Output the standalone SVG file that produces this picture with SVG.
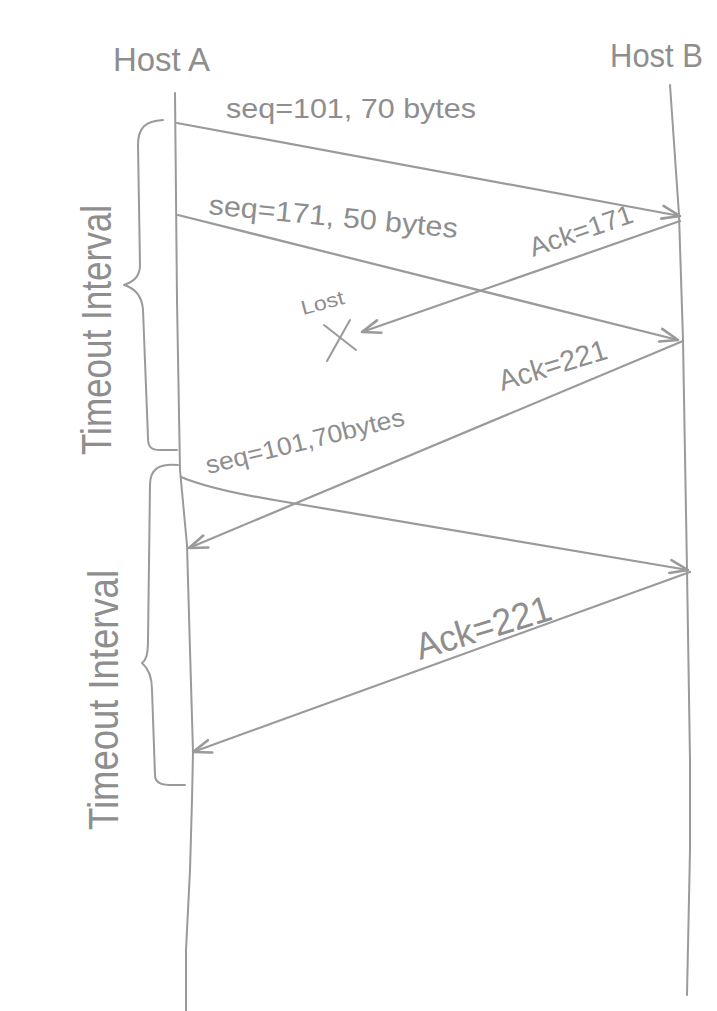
<svg xmlns="http://www.w3.org/2000/svg" width="717" height="1011" viewBox="0 0 717 1011">
<style>
.ln{fill:none;stroke:#9a9a9a;stroke-width:2;stroke-linecap:round;stroke-linejoin:round}
.msg{fill:none;stroke:#9a9a9a;stroke-width:2.2;stroke-linecap:round;marker-end:url(#ah)}
.t{font-family:"Liberation Sans",Arial,sans-serif;fill:#8e8e8e}
</style>
<defs>
<marker id="ah" markerUnits="userSpaceOnUse" markerWidth="26" markerHeight="22" viewBox="-22 -11 26 22" refX="0" refY="0" orient="auto">
<path d="M-18,-7 L0,0 L-18,6" fill="none" stroke="#9a9a9a" stroke-width="2.6" stroke-linecap="round" stroke-linejoin="round"/>
</marker>
</defs>
<rect width="717" height="1011" fill="#ffffff"/>
<g id="hostA">
<text class="t" x="113" y="71" font-size="33" textLength="97" lengthAdjust="spacingAndGlyphs">Host A</text>
<path class="ln" d="M175,93 L177,300 L180,470 L187,545 L190,650 L193,752 L192,800 L190,870 L186,950 L186,1011"/>
</g>
<g id="hostB">
<text class="t" x="610" y="67" font-size="33" textLength="93" lengthAdjust="spacingAndGlyphs">Host B</text>
<path class="ln" d="M670,85 L679,215 L683,340 L687,570 L690,760 L690,850 L687,995"/>
</g>
<g id="timeout1">
<path class="ln" d="M163,120 C145,121 138,128 138,145 L140,265 C140,278 132,282 124,285 C134,288 142,295 143,310 L148,438 C148,447 151,450 160,450 L177,450"/>
<text class="t" transform="translate(111,455) rotate(-90)" font-size="42" textLength="250" lengthAdjust="spacingAndGlyphs">Timeout Interval</text>
</g>
<g id="timeout2">
<path class="ln" d="M178,465 C158,463 150,470 150,485 L148,640 C148,655 146,660 142,663 C148,668 152,675 152,690 L155,775 C155,782 160,785 170,785 L185,785"/>
<text class="t" transform="translate(118,830) rotate(-90)" font-size="42" textLength="260" lengthAdjust="spacingAndGlyphs">Timeout Interval</text>
</g>
<g id="lost">
<text class="t" transform="translate(303,315) rotate(-15)" font-size="20" textLength="44" lengthAdjust="spacingAndGlyphs">Lost</text>
<path class="ln" d="M324,325 L356,350 M350,320 L327,361" stroke-width="2.4"/>
</g>
<g id="connectors">
<line class="msg" x1="177" y1="123" x2="680" y2="216"/>
<line class="msg" x1="178" y1="215" x2="678" y2="340"/>
<line class="msg" x1="680" y1="221" x2="362" y2="332"/>
<line class="msg" x1="683" y1="341" x2="189" y2="548"/>
<path class="msg" d="M181,477 Q212,490 280,501 L688,570"/>
<line class="msg" x1="690" y1="572" x2="193" y2="752"/>
<text class="t" x="226" y="118" font-size="28" textLength="250" lengthAdjust="spacingAndGlyphs">seq=101, 70 bytes</text>
<text class="t" transform="translate(208,214) rotate(5.5)" font-size="28" textLength="250" lengthAdjust="spacingAndGlyphs">seq=171, 50 bytes</text>
<text class="t" transform="translate(533,257) rotate(-19)" font-size="27" textLength="108" lengthAdjust="spacingAndGlyphs">Ack=171</text>
<text class="t" transform="translate(502,391) rotate(-17)" font-size="29" textLength="112" lengthAdjust="spacingAndGlyphs">Ack=221</text>
<text class="t" transform="translate(208,474) rotate(-14)" font-size="25" textLength="204" lengthAdjust="spacingAndGlyphs">seq=101,70bytes</text>
<text class="t" transform="translate(420,660) rotate(-17)" font-size="37" textLength="140" lengthAdjust="spacingAndGlyphs">Ack=221</text>
</g>
</svg>
